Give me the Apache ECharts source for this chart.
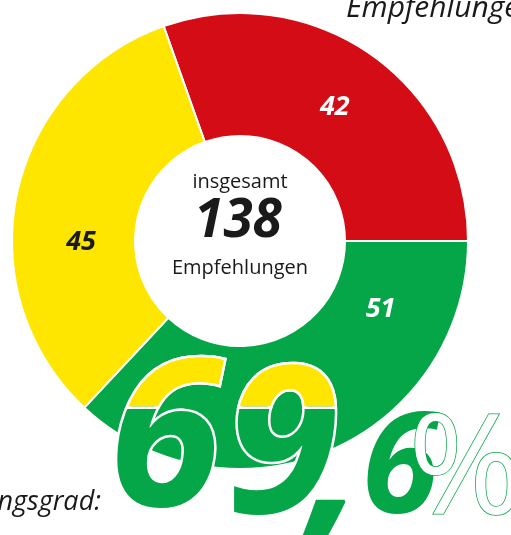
<!DOCTYPE html>
<html>
<head>
<meta charset="utf-8">
<script src="https://cdn.jsdelivr.net/npm/echarts@6/dist/echarts.min.js"></script>
<style>
  html, body { margin: 0; padding: 0; background: #fff; }
  #donut { width: 511px; height: 535px; }
</style>
</head>
<body>
<div id="donut"></div>
<script>
// Empfehlungen nach Status
const categories = ['nicht umgesetzt', 'umgesetzt', 'teilweise umgesetzt']
const values = [42, 51, 45]
const colors = ['#d30c16', '#05a648', '#ffe600']
const labelColors = ['#fff', '#fff', '#1a1a1a']
// Verschiebung der Zahlen im Ring (px)
const labelShift = [[-3, 5], [73, -87], [7, 36]]

const total = values.reduce((a, b) => a + b, 0)
const grad = ((values[1] + values[2]) / total * 100).toFixed(1).replace('.', ',')
const gradChars = grad.split('') // "6" "9" "," "6"

const FONT = '"Open Sans", "Noto Sans", sans-serif'
const green = colors[1]
const yellow = colors[2]
const splitY = 408

const chart = echarts.init(document.getElementById('donut'))

chart.setOption({
  animation: false,
  series: [
    {
      type: 'pie',
      center: [240, 241],
      radius: [105, 228],
      startAngle: values[0] / total * 360,
      clockwise: true,
      silent: true,
      itemStyle: {
        borderColor: '#fff',
        borderWidth: 2
      },
      label: {
        show: true,
        position: 'inside',
        formatter: '{c}',
        fontFamily: FONT,
        fontStyle: 'italic',
        fontWeight: 'bold',
        fontSize: 27
      },
      labelLine: { show: false },
      labelLayout(params) {
        const s = labelShift[params.dataIndex]
        return { dx: s[0], dy: s[1] }
      },
      data: categories.map((name, i) => ({
        name: name,
        value: values[i],
        itemStyle: { color: colors[i] },
        label: { color: labelColors[i] }
      }))
    }
  ],
  graphic: [
    {
      type: 'text',
      style: { text: 'insgesamt', x: 240, y: 182, align: 'center', verticalAlign: 'middle',
        font: '20px ' + FONT, fill: '#1a1a1a' }
    },
    {
      type: 'text',
      style: { text: String(total), x: 238, y: 222, align: 'center', verticalAlign: 'middle',
        font: 'italic bold 53px ' + FONT, fill: '#1a1a1a' }
    },
    {
      type: 'text',
      style: { text: 'Empfehlungen', x: 346, y: 8, align: 'left', verticalAlign: 'middle',
        font: 'italic 30px ' + FONT, fill: '#1a1a1a' }
    },
    {
      type: 'text',
      style: { text: 'Umsetzungsgrad:', x: 101, y: 502, align: 'right', verticalAlign: 'middle',
        font: 'italic 27px ' + FONT, fill: '#1a1a1a' }
    },
    {
      type: 'text',
      style: { text: 'Empfehlungen', x: 240, y: 268, align: 'center', verticalAlign: 'middle',
        font: '20px ' + FONT, fill: '#1a1a1a' }
    }
  ]
})

// grosse Prozentzahl direkt mit zrender (Clip fuer den gelben Teil)
const zr = chart.getZr()

function digit(ch, x, y, size, fill, clip) {
  const t = new echarts.graphic.Text({
    z: 100,
    style: {
      text: ch,
      x: x,
      y: y,
      align: 'center',
      verticalAlign: 'middle',
      font: 'italic bold ' + size + 'px ' + FONT,
      fill: fill,
      stroke: '#fff',
      lineWidth: 5,
      strokeFirst: true
    }
  })
  if (clip) {
    t.setClipPath(new echarts.graphic.Rect({ shape: clip }))
  }
  zr.add(t)
}

const big = [
  [gradChars[0], 165, 448],
  [gradChars[1], 282, 455]
]
big.forEach(([ch, x, y]) => {
  digit(ch, x, y, 205, green)
  digit(ch, x, y, 205, yellow, { x: 0, y: 0, width: 511, height: splitY - 1.5 })
  digit(ch, x, y, 205, '#fff', { x: 0, y: splitY - 1.5, width: 511, height: 2.5 })
})
digit(gradChars[2], 336, 466, 205, green)
digit(gradChars[3], 400, 473, 140, green)

zr.add(new echarts.graphic.Text({
  z: 100,
  style: {
    text: '%', x: 466, y: 474, align: 'center', verticalAlign: 'middle',
    font: '140px ' + FONT, fill: '#fff', stroke: green, lineWidth: 1.5
  }
}))
</script>
</body>
</html>
